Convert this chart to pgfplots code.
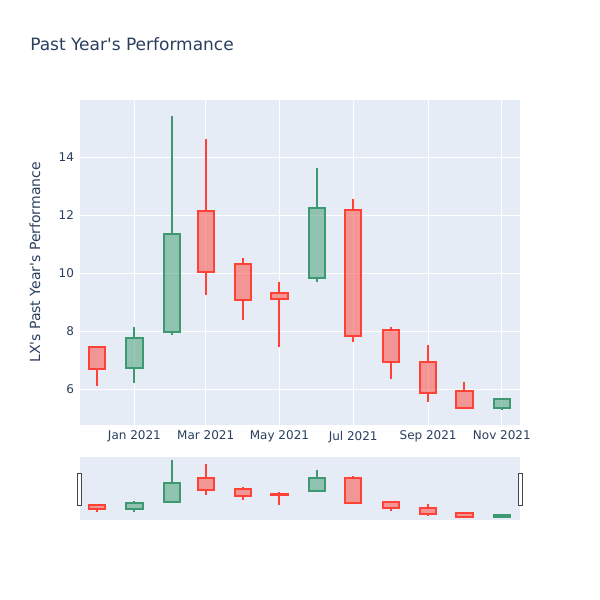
\documentclass[border=0pt]{standalone}
\usepackage{pgfplots}
\pgfplotsset{compat=1.18}
\usepackage{fontspec}
\setmainfont{DejaVu Sans}[Ligatures=TeXOff]
\definecolor{bgc}{HTML}{E5ECF6}
\definecolor{tc}{HTML}{2A3F5F}
\definecolor{inc}{HTML}{3D9970}
\definecolor{dec}{HTML}{FF4136}
% \candle{left}{date}{right}{low}{body low}{body high}{high}{colour}
\newcommand{\candle}[8]{%
  \addplot[draw=#8, line width=1.5pt] coordinates {(#2,#4) (#2,#5)};
  \addplot[draw=#8, line width=1.5pt] coordinates {(#2,#6) (#2,#7)};
  \addplot[draw=#8, fill=#8, fill opacity=0.5, line width=1.5pt, line join=miter]
    coordinates {(#1,#5) (#3,#5) (#3,#6) (#1,#6)} -- cycle;
}
\newcommand{\allcandles}{%
  \candle{-6.75}{0}{6.75}{6.10}{6.70}{7.44}{7.45}{dec}
  \candle{24.25}{31}{37.75}{6.20}{6.72}{7.76}{8.15}{inc}
  \candle{55.25}{62}{68.75}{7.85}{7.97}{11.34}{15.41}{inc}
  \candle{83.25}{90}{96.75}{9.25}{10.05}{12.14}{14.61}{dec}
  \candle{114.25}{121}{127.75}{8.38}{9.07}{10.33}{10.52}{dec}
  \candle{144.25}{151}{157.75}{7.46}{9.12}{9.32}{9.68}{dec}
  \candle{175.25}{182}{188.75}{9.69}{9.83}{12.23}{13.61}{inc}
  \candle{205.25}{212}{218.75}{7.64}{7.83}{12.18}{12.54}{dec}
  \candle{236.25}{243}{249.75}{6.33}{6.95}{8.03}{8.13}{dec}
  \candle{267.25}{274}{280.75}{5.55}{5.88}{6.95}{7.53}{dec}
  \candle{297.25}{304}{310.75}{5.32}{5.33}{5.92}{6.24}{dec}
  \candle{328.25}{335}{341.75}{5.28}{5.33}{5.67}{5.67}{inc}
}
\begin{document}
\begin{tikzpicture}
\path[use as bounding box, fill=white] (0pt,0pt) rectangle (450pt,450pt);
\node[anchor=base west, font=\fontsize{12.75}{14}\selectfont, text=tc, inner sep=0pt]
  at (22.5pt,411.75pt) {Past Year's Performance};
\begin{axis}[
  at={(60pt,131.25pt)}, anchor=south west, scale only axis,
  width=330pt, height=243.75pt,
  xmin=-14, xmax=350, ymin=4.76, ymax=15.97,
  axis background/.style={fill=bgc},
  axis line style={draw=none},
  major tick length=0pt,
  grid=major, grid style={white, line width=0.75pt},
  xtick={31,90,151,212,274,335},
  xticklabels={Jan 2021,Mar 2021,May 2021,Jul 2021,Sep 2021,Nov 2021},
  ytick={6,8,10,12,14},
  tick label style={font=\fontsize{9}{10}\selectfont, text=tc},
  /pgf/number format/assume math mode=true,
  xticklabel style={yshift=-1pt},
  yticklabel style={xshift=-1pt},
  ylabel={LX's Past Year's Performance},
  every axis y label/.style={at={(axis description cs:-0.1023,0.5)}, rotate=90, anchor=center,
    font=\fontsize{10.5}{12}\selectfont, text=tc},
]
\allcandles
\end{axis}
\begin{axis}[
  at={(60pt,60pt)}, anchor=south west, scale only axis,
  width=330pt, height=47.5pt,
  xmin=-14, xmax=350, ymin=4.76, ymax=15.97,
  axis background/.style={fill=bgc},
  axis line style={draw=none},
  xtick=\empty, ytick=\empty,
  clip=false,
]
\allcandles
\draw[fill=white, draw=black!73, line width=0.75pt]
  (axis description cs:-0.0061,0.232) rectangle (axis description cs:0.0039,0.738);
\draw[fill=white, draw=black!73, line width=0.75pt]
  (axis description cs:0.9955,0.232) rectangle (axis description cs:1.0052,0.738);
\end{axis}
\end{tikzpicture}
\end{document}
